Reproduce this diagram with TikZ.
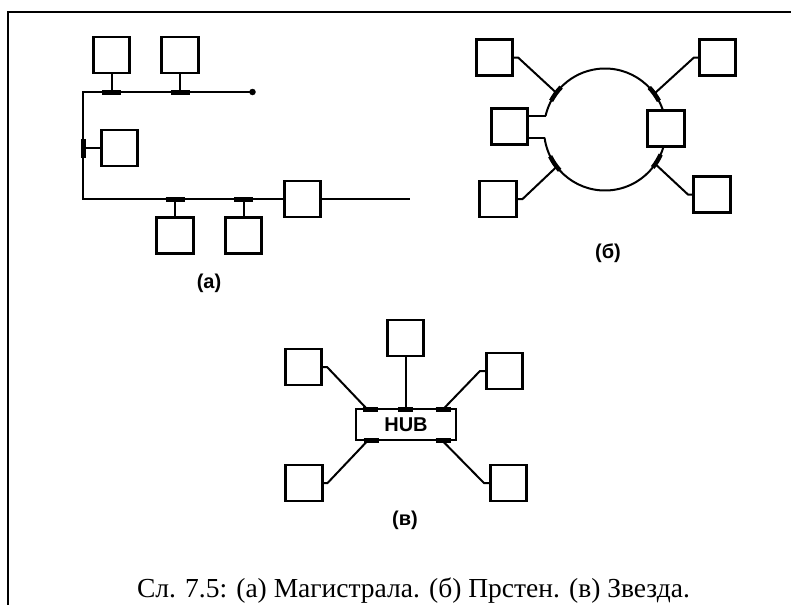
\documentclass[tikz,border=0pt]{standalone}
\usepackage{fontspec}
\setmainfont{Liberation Serif}
\newfontfamily\lblfont{Liberation Sans}
\usetikzlibrary{calc}
\tikzset{
  box/.style={draw, line width=2.6pt, minimum width=36.5pt, minimum height=36pt, inner sep=0pt, fill=white},
  wire/.style={line width=2pt},
  tapbar/.style={line width=5pt},
  ringtap/.style={line width=4.5pt},
  lbl/.style={font=\lblfont\bfseries\fontsize{20}{24}\selectfont, inner sep=0pt},
  frameline/.style={line width=1.5pt}
}
\begin{document}
\begin{tikzpicture}[x=1pt,y=-1pt]
\useasboundingbox (0,0) rectangle (791,605);
% frame
\draw[frameline] (791,12) -- (8,12) -- (8,605);

% ---------- (a) bus ----------
\coordinate (c1) at (83,92);
\coordinate (c2) at (83,199);
\coordinate (eR) at (410,199);
\node[circle, fill, inner sep=0pt, minimum size=6.5pt] (dot) at (252.5,92) {};
\node[box] (a1) at (111.5,55) {};
\node[box] (a2) at (180,55) {};
\node[box] (a3) at (119.5,148) {};
\node[box] (a4) at (175,235.5) {};
\node[box] (a5) at (243.5,235.5) {};
\node[box] (a6) at (302.5,199) {};
\draw[wire] (dot.center) -- (c1) -- (c2) -- (a6.west);
\draw[wire] (a6.east) -- (eR);
\coordinate (t1) at (a1.south |- c1);
\coordinate (t2) at (a2.south |- c1);
\coordinate (t3) at (a3.west -| c1);
\coordinate (t4) at (a4.north |- c2);
\coordinate (t5) at (a5.north |- c2);
\draw[wire] (a1.south) -- (t1);
\draw[wire] (a2.south) -- (t2);
\draw[wire] (a3.west) -- (t3);
\draw[wire] (a4.north) -- (t4);
\draw[wire] (a5.north) -- (t5);
\foreach \t in {t1,t2,t4,t5}{
  \draw[tapbar] ([xshift=-9.5pt]\t) -- ([xshift=9.5pt]\t);
}
\draw[tapbar] ([yshift=-9.5pt]t3) -- ([yshift=9.5pt]t3);
\node[lbl] (la) at (209,283) {(а)};

% ---------- (b) ring ----------
\coordinate (O) at (605,129.5);
\draw[wire] (O) ++(172.3:61) arc[start angle=172.3, end angle=-167.2, radius=61];
\coordinate (ml1) at ($(O)+(-167.2:61)$);
\coordinate (ml2) at ($(O)+(172.3:61)$);
\node[box] (bTL) at (494.5,57.5) {};
\node[box] (bTR) at (717.5,57.5) {};
\node[box] (bML) at (509.5,126.7) {};
\node[box] (bMR) at (666,128.5) {};
\node[box] (bBL) at (498,199) {};
\node[box] (bBR) at (712,194.5) {};
\draw[wire] (ml1) -- (ml1 -| bML.east);
\draw[wire] (ml2) -- (ml2 -| bML.east);
% taps on the ring
\draw[ringtap] (O) ++(-136:61) arc[start angle=-136, end angle=-152, radius=61];
\draw[ringtap] (O) ++(-28:61) arc[start angle=-28, end angle=-43.5, radius=61];
\draw[ringtap] (O) ++(154:61) arc[start angle=154, end angle=138, radius=61];
\draw[ringtap] (O) ++(38.5:61) arc[start angle=38.5, end angle=24.2, radius=61];
\coordinate (rTL) at ($(O)+(-143:61)$);
\coordinate (rTR) at ($(O)+(-36:61)$);
\coordinate (rBL) at ($(O)+(142.4:61)$);
\coordinate (rBR) at ($(O)+(34.5:61)$);
\draw[wire] (bTL.east) -- ++(4,0) -- (rTL);
\draw[wire] (bTR.west) -- ++(-4,0) -- (rTR);
\draw[wire] (bBL.east) -- ++(5,0) -- (rBL);
\draw[wire] (bBR.west) -- ++(-4.5,0) -- (rBR);
\node[lbl] (lb) at (608,253) {(б)};

% ---------- (c) star ----------
\node[draw, line width=2pt, minimum width=100pt, minimum height=31pt, inner sep=0pt,
      font=\lblfont\bfseries\fontsize{20}{24}\selectfont] (hub) at (406,424.5) {HUB};
\node[box] (vT) at (405.5,338) {};
\node[box] (vUL) at (303.5,367) {};
\node[box] (vUR) at (504.5,371) {};
\node[box] (vLL) at (304,483) {};
\node[box] (vLR) at (508.5,483) {};
\coordinate (h1) at (370,409);
\coordinate (h2) at (405.8,409);
\coordinate (h3) at (443,409);
\coordinate (h4) at (371,440);
\coordinate (h5) at (443,440);
\coordinate (e1) at (367,409);
\coordinate (e3) at (443.3,409);
\coordinate (e4) at (368.3,440);
\coordinate (e5) at (441.7,440);
\draw[wire] (vUL.east) -- ++(4,0) -- (e1);
\draw[wire] (vT.south) -- (vT.south |- h2);
\draw[wire] (vUR.west) -- ++(-5,0) -- (e3);
\draw[wire] (vLL.east) -- ++(4,0) -- (e4);
\draw[wire] (vLR.west) -- ++(-5,0) -- (e5);
\foreach \h in {h1,h2,h3,h4,h5}{
  \draw[tapbar] ([xshift=-7.5pt]\h) -- ([xshift=7.5pt]\h);
}
\node[lbl] (lc) at (405,520) {(в)};

% ---------- caption ----------
\node[anchor=base, inner sep=0pt, font=\fontsize{27.5}{32}\selectfont] (cap) at (413.5,597)
  {Сл. 7.5: (а) Магистрала. (б) Прстен. (в) Звезда.};
\end{tikzpicture}
\end{document}
